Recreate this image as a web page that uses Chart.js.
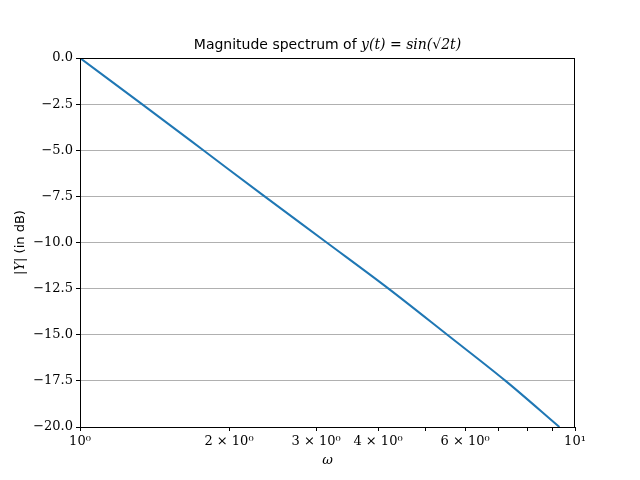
<!DOCTYPE html>
<html>
<head>
<meta charset="utf-8">
<script src="https://cdn.jsdelivr.net/npm/chart.js@4"></script>
<style>
  html, body { margin: 0; padding: 0; background: #fff; }
  #wrap { width: 640px; height: 480px; }
</style>
</head>
<body>
<div id="wrap"><canvas id="spectrum"></canvas></div>
<script>
// values (where the curve crosses each grid line)
var omega = [1, 1.334, 1.775, 2.36, 3.15, 4.2, 5.52, 7.24, 9.3];
var magDb = [0, -2.5, -5, -7.5, -10, -12.5, -15, -17.5, -20];
var xTicks = [1, 2, 3, 4, 5, 6, 7, 8, 9, 10];
var xLabelled = [1, 2, 3, 4, 6, 10];
var yTicks = [0, -2.5, -5, -7.5, -10, -12.5, -15, -17.5, -20];

var SERIF = '"DejaVu Serif", serif';
var SANS = '"DejaVu Sans", sans-serif';

function supDigit(n) {
  return n == 0 ? '\u2070' : '\u00b9';
}

function xTickLabel(v) {
  if (xLabelled.indexOf(v) < 0) return '';
  if (v == 1) return '10' + supDigit(0);
  if (v == 10) return '10' + supDigit(1);
  return v + ' \u00d7 10' + supDigit(0);
}

function yTickLabel(v) {
  var s = Math.abs(v).toFixed(1);
  return v < 0 ? '\u2212' + s : s;
}

// frame, title and axis names (matplotlib style)
var decorations = {
  id: 'decorations',
  afterDraw: function(chart) {
    var ctx = chart.ctx;
    var a = chart.chartArea;
    ctx.save();
    ctx.strokeStyle = '#000';
    ctx.lineWidth = 1;
    ctx.strokeRect(a.left + 0.5, a.top + 0.5, a.right - a.left - 1, a.bottom - a.top);

    // title: text part in sans, math part in italic serif
    var cx = (a.left + a.right) / 2;
    var part1 = 'Magnitude spectrum of ';
    var part2 = 'y(t) = sin(\u221a2t)';
    ctx.font = '14px ' + SANS;
    var w1 = ctx.measureText(part1).width;
    ctx.font = 'italic 14px ' + SERIF;
    var w2 = ctx.measureText(part2).width;
    var x0 = cx - (w1 + w2) / 2;
    ctx.fillStyle = '#000';
    ctx.textBaseline = 'alphabetic';
    ctx.textAlign = 'left';
    ctx.font = '14px ' + SANS;
    ctx.fillText(part1, x0, 49);
    ctx.font = 'italic 14px ' + SERIF;
    ctx.fillText(part2, x0 + w1, 49);

    // x axis name
    ctx.textAlign = 'center';
    ctx.font = 'italic 13px ' + SERIF;
    ctx.fillText('\u03c9', cx, 464);

    // y axis name
    ctx.translate(24, (a.top + a.bottom) / 2);
    ctx.rotate(-Math.PI / 2);
    var p1 = '|Y|';
    var p2 = ' (in dB)';
    ctx.font = 'italic 13px ' + SERIF;
    var q1 = ctx.measureText(p1).width;
    ctx.font = '13px ' + SANS;
    var q2 = ctx.measureText(p2).width;
    ctx.textAlign = 'left';
    ctx.font = 'italic 13px ' + SERIF;
    ctx.fillText(p1, -(q1 + q2) / 2, 0);
    ctx.font = '13px ' + SANS;
    ctx.fillText(p2, -(q1 + q2) / 2 + q1, 0);
    ctx.restore();
  }
};

var points = omega.map(function(w, i) { return { x: w, y: magDb[i] }; });

var ctx = document.getElementById('spectrum').getContext('2d');

var spectrumChart = new Chart(ctx, {
  type: 'line',
  data: {
    datasets: [{
      data: points,
      borderColor: '#1f77b4',
      borderWidth: 2,
      pointRadius: 0,
      cubicInterpolationMode: 'monotone',
      clip: 0
    }]
  },
  options: {
    responsive: true,
    maintainAspectRatio: false,
    animation: false,
    devicePixelRatio: 1,
    layout: {
      padding: { top: 58, right: 65, bottom: 0, left: 0 }
    },
    plugins: {
      legend: { display: false },
      tooltip: { enabled: false },
      title: { display: false }
    },
    scales: {
      x: {
        type: 'logarithmic',
        min: 1,
        max: 10,
        afterFit: function(scale) { scale.height = 53; },
        afterBuildTicks: function(scale) {
          scale.ticks = xTicks.map(function(w) { return { value: w }; });
        },
        border: { display: true, color: '#000', width: 1 },
        grid: {
          drawOnChartArea: false,
          drawTicks: true,
          tickLength: 4,
          tickColor: '#000'
        },
        ticks: {
          autoSkip: false,
          maxRotation: 0,
          padding: 3,
          color: '#000',
          font: { family: SERIF, size: 13 },
          callback: function(v) { return xTickLabel(v); }
        }
      },
      y: {
        min: -20,
        max: 0,
        afterFit: function(scale) { scale.width = 80; },
        afterBuildTicks: function(scale) {
          scale.ticks = yTicks.map(function(v) { return { value: v }; });
        },
        border: { display: true, color: '#000', width: 1 },
        grid: {
          color: '#b0b0b0',
          lineWidth: 1,
          drawTicks: true,
          tickLength: 4,
          tickColor: '#000'
        },
        ticks: {
          padding: 3,
          color: '#000',
          font: { family: SERIF, size: 13 },
          callback: function(v) { return yTickLabel(v); }
        }
      }
    }
  },
  plugins: [decorations]
});
</script>
</body>
</html>
